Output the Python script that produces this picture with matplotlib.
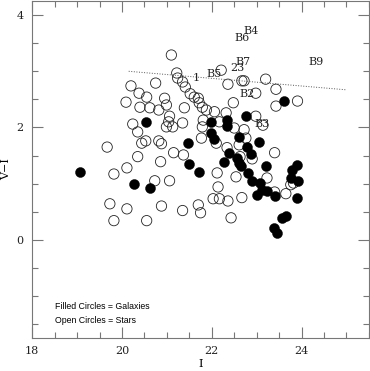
import numpy as np
import matplotlib
matplotlib.use('Agg')
import matplotlib.pyplot as plt
from matplotlib.ticker import MultipleLocator

# stars (open circles)
star_i = [21.10, 21.22, 21.24, 21.35, 21.41, 21.52, 21.61, 21.70, 21.79, 21.88,
          22.06, 22.17, 21.81, 21.79, 21.77, 20.20, 20.75, 20.38, 20.55, 20.09,
          20.40, 20.62, 20.82, 20.95, 20.99, 21.39, 21.06, 21.04, 20.99, 21.13,
          21.35, 20.24, 20.35, 20.44, 20.53, 20.82, 20.88, 21.15, 21.37, 20.35,
          20.86, 20.11, 19.82, 19.67, 20.73, 21.06, 19.73, 20.11, 19.82, 20.55,
          20.88, 21.35, 21.75, 21.70, 22.12, 22.14, 22.03, 22.17, 22.21, 22.36,
          22.67, 22.72, 23.20, 23.43, 23.91, 23.43, 22.48, 22.98, 22.98, 23.14,
          22.32, 22.72, 22.76, 22.61, 22.34, 23.40, 22.90, 22.63, 22.54, 23.23,
          22.36, 22.67, 23.40, 23.65, 23.76, 23.82, 22.43, 22.50, 22.10, 21.72]
star_vi = [3.29, 2.97, 2.88, 2.81, 2.72, 2.60, 2.54, 2.52, 2.36, 2.31,
           2.28, 2.10, 2.13, 2.01, 1.81, 2.74, 2.79, 2.61, 2.54, 2.45,
           2.36, 2.35, 2.31, 2.52, 2.40, 2.35, 2.20, 2.10, 2.01, 2.01,
           2.08, 2.06, 1.92, 1.72, 1.76, 1.76, 1.71, 1.55, 1.51, 1.48,
           1.39, 1.28, 1.17, 1.65, 1.05, 1.05, 0.64, 0.55, 0.34, 0.34,
           0.60, 0.52, 0.48, 0.62, 1.19, 0.94, 0.73, 0.73, 3.02, 2.77,
           2.83, 2.83, 2.86, 2.68, 2.47, 2.38, 2.44, 2.61, 2.20, 2.04,
           2.26, 1.96, 1.81, 1.69, 1.64, 1.55, 1.44, 1.48, 1.12, 1.10,
           0.69, 0.75, 0.85, 0.82, 0.98, 1.01, 0.39, 1.99, 1.72, 2.44]

# galaxies (filled circles)
gal_i = [20.53, 19.07, 20.27, 20.62, 21.99, 21.46, 21.99, 22.06, 21.50, 21.72,
         22.28, 23.62, 22.34, 22.34, 22.76, 22.61, 23.05, 22.78, 22.87, 22.39,
         22.56, 22.61, 22.65, 23.20, 22.81, 22.90, 23.07, 23.12, 23.01, 23.23,
         23.40, 23.89, 23.78, 23.76, 23.91, 23.89, 23.56, 23.65, 23.38, 23.45]
gal_vi = [2.10, 1.21, 1.00, 0.92, 2.10, 1.72, 1.90, 1.80, 1.35, 1.21,
          1.39, 2.47, 2.13, 2.03, 2.20, 1.83, 1.74, 1.65, 1.53, 1.55,
          1.46, 1.37, 1.32, 1.32, 1.19, 1.05, 1.01, 0.89, 0.80, 0.87,
          0.78, 1.33, 1.24, 1.10, 1.05, 0.75, 0.39, 0.43, 0.20, 0.12]

# labelled objects
lab_names = ['B4', 'B6', 'B7', '23', 'B5', '1', 'B2', 'B3', 'B9']
lab_i = [22.88, 22.68, 22.70, 22.57, 22.04, 21.66, 22.79, 23.13, 24.32]
lab_vi = [3.72, 3.60, 3.17, 3.06, 2.95, 2.88, 2.59, 2.07, 3.17]

# dotted cut line
line_i = [20.15, 25.0]
line_vi = [3.0, 2.67]

fig = plt.figure(figsize=(3.70, 3.71), dpi=100)
ax = fig.add_axes([0.087, 0.089, 0.91, 0.908])

ax.scatter(star_i, star_vi, s=55, facecolors='none', edgecolors='#222222', linewidths=0.6)
ax.scatter(gal_i, gal_vi, s=52, c='black', edgecolors='black', linewidths=0.3)
ax.plot(line_i, line_vi, ls=':', color='#555555', lw=0.7)

for n, xx, yy in zip(lab_names, lab_i, lab_vi):
    ax.text(xx, yy, n, ha='center', va='center', fontsize=8, family='DejaVu Serif', color='#222222')

ax.text(18.5, -1.19, 'Filled Circles = Galaxies', fontsize=6.3, family='Liberation Sans', va='center')
ax.text(18.5, -1.43, 'Open Circles = Stars', fontsize=6.3, family='Liberation Sans', va='center')

ax.set_xlim(18, 25.5)
ax.set_ylim(-1.75, 4.25)
ax.xaxis.set_major_locator(MultipleLocator(2))
ax.xaxis.set_minor_locator(MultipleLocator(0.5))
ax.yaxis.set_major_locator(MultipleLocator(2))
ax.yaxis.set_minor_locator(MultipleLocator(0.5))
ax.tick_params(which='both', direction='in', top=True, right=True, colors='#777777',
               labelcolor='#222222', labelsize=8, width=0.8)
ax.tick_params(which='major', length=8, pad=6)
ax.tick_params(which='minor', length=4)
for lab in ax.get_xticklabels() + ax.get_yticklabels():
    lab.set_family('DejaVu Serif')
for sp in ax.spines.values():
    sp.set_color('#777777')
    sp.set_linewidth(0.8)

ax.set_xlabel('I', family='DejaVu Serif', fontsize=8, labelpad=2)
ax.set_ylabel('V\u2212I', family='DejaVu Serif', fontsize=8, labelpad=4)

fig.savefig('out.png', dpi=100)
